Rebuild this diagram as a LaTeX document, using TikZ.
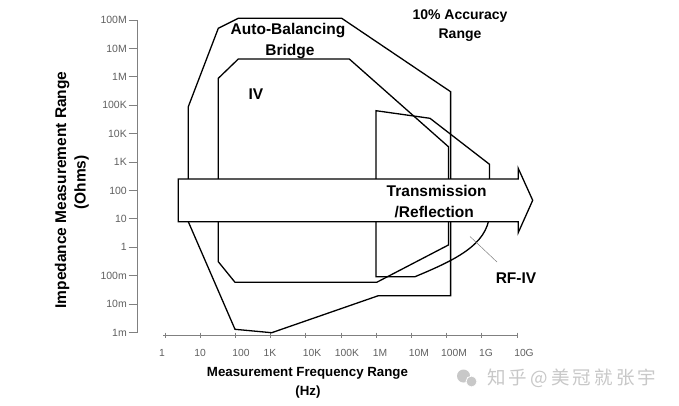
\documentclass[tikz,border=0pt]{standalone}
\usepackage{fontspec}
\setmainfont{Liberation Sans}
\newfontfamily\cjkfont[LetterSpace=17]{Noto Sans CJK SC}
\definecolor{axgray}{HTML}{808080}
\definecolor{lblgray}{HTML}{606060}
\definecolor{wmgray}{HTML}{C8C8C8}
\begin{document}
\begin{tikzpicture}[x=1pt,y=-1pt,
  region/.style={draw=black,line width=1.3pt,line join=miter},
  lbl/.style={font=\bfseries\fontsize{15.5}{17}\selectfont,inner sep=0pt,text height=11.1pt,text depth=0pt},
  smlbl/.style={font=\bfseries\fontsize{14}{16}\selectfont,inner sep=0pt,text height=10pt,text depth=0pt},
  ylbl/.style={font=\fontsize{10.5}{12}\selectfont,text=lblgray,inner sep=0pt,text height=7.5pt,text depth=0pt,anchor=east},
  xlbl/.style={font=\fontsize{10.3}{12}\selectfont,text=lblgray,inner sep=0pt,text height=7.4pt,text depth=0pt},
  ax/.style={draw=axgray,line width=0.8pt},
  xtitle/.style={font=\bfseries\fontsize{13.3}{15}\selectfont,inner sep=0pt,text height=9.5pt,text depth=0pt},
  ytitle/.style={font=\bfseries\fontsize{15.5}{17}\selectfont,inner sep=0pt,text height=11.1pt,text depth=0pt,rotate=90}]
\useasboundingbox (0,0) rectangle (679,405);
\fill[white] (0,0) rectangle (679,405);

% axes
\draw[ax] (137,20) -- (137,333);
\foreach \i/\t in {0/100M,1/10M,2/1M,3/100K,4/10K,5/1K,6/100,7/10,8/1,9/100m,10/10m,11/1m}{
  \draw[ax] (128.5,20+28.4*\i) -- (137,20+28.4*\i);
  \node[ylbl] (yl\i) at (127,20+28.4*\i) {\t};
}
\draw[ax] (163,335.7) -- (518,335.7);
\foreach \i in {0,...,10}{
  \draw[ax] (165+35.2*\i,332.5) -- (165+35.2*\i,338);
}
\foreach \x/\t/\n in {162/1/a,200/10/b,241/100/c,270/1K/d,312/10K/e,347/100K/f,380/1M/g,419/10M/h,454/100M/i,486/1G/j,524/10G/k}{
  \node[xlbl] (xl\n) at (\x,353) {\t};
}

% regions
\draw[region] (188.3,221.7) -- (188.3,106.7) -- (218.3,28.3) -- (238.3,18.3) -- (341.7,18.3)
  -- (450.6,91.7) -- (450.6,295.7) -- (378.3,295.7) -- (271.7,332.7) -- (235,329.3) -- cycle;
\draw[region] (218.3,261.7) -- (218.3,78.3) -- (238.3,59) -- (349.3,59) -- (448.4,146.7)
  -- (448.4,245) -- (376.7,282.3) -- (235,282.3) -- cycle;
\draw[region] (376,276.7) -- (376,110.7) -- (430,118.3) -- (489.5,164.3) -- (489.5,215)
  .. controls (487,245) and (455,260) .. (415,276.7) -- cycle;

% arrow
\draw[region,fill=white] (178.3,179) -- (518.3,179) -- (518.3,168.5) -- (532.7,200.3)
  -- (518.3,232.5) -- (518.3,221.7) -- (178.3,221.7) -- cycle;

% labels
\node[lbl] (ab1) at (288,29) {Auto-Balancing};
\node[lbl] (ab2) at (290,50) {Bridge};
\node[smlbl] (acc1) at (460,14) {10\% Accuracy};
\node[smlbl] (acc2) at (460,33) {Range};
\node[lbl] (iv) at (256,94.3) {IV};
\node[lbl] (tr1) at (436.7,190.7) {Transmission};
\node[lbl] (tr2) at (434.3,211.7) {/Reflection};
\node[lbl] (rfiv) at (516,277.7) {RF-IV};
\coordinate (rfp) at (470,236.5);
\draw[axgray,line width=0.5pt] (rfp) -- (497,262);

% titles
\node[xtitle] (xt1) at (307.5,371.7) {Measurement Frequency Range};
\node[xtitle] (xt2) at (308,391) {(Hz)};
\node[ytitle] (yt1) at (60.5,190) {Impedance Measurement Range};
\node[ytitle] (yt2) at (80,182.5) {(Ohms)};

% watermark
\fill[wmgray] (463.5,376) circle (6.5);
\fill[wmgray,draw=white,line width=0.8pt] (471.5,381.5) circle (5.5);
\node[font=\cjkfont\fontsize{18.5}{20}\selectfont,text=wmgray,inner sep=0pt,anchor=west] (wm) at (487,378) {知乎\,@美冠就张宇};
\end{tikzpicture}
\end{document}
